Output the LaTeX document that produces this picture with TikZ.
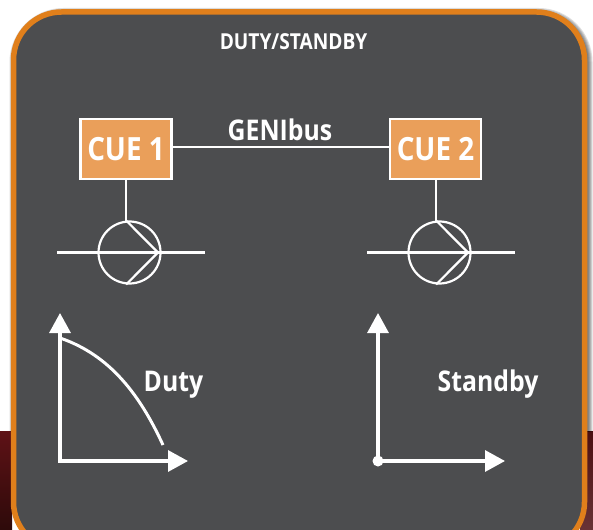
\documentclass[tikz,border=0pt]{standalone}
\usepackage{fontspec}
\setmainfont{Open Sans}[FakeStretch=0.87]
\usetikzlibrary{arrows.meta,positioning,calc}
\definecolor{panelgray}{HTML}{4C4D4F}
\definecolor{frameorange}{HTML}{E07F1B}
\definecolor{cuefill}{HTML}{EA9F5A}
\definecolor{darkred}{HTML}{5E1216}
\definecolor{deepred}{HTML}{2E0A0A}
\begin{document}
\begin{tikzpicture}[x=1pt,y=-1pt,
wire/.style={draw=white,line width=2.2pt},
axis/.style={draw=white,line width=3.2pt,{Triangle[length=20pt,width=21pt]}-{Triangle[length=20pt,width=21pt]}},
cue/.style={rectangle,draw=white,fill=cuefill,line width=2.2pt,minimum width=91pt,minimum height=60pt,
text=white,font=\bfseries\fontsize{32}{32}\selectfont,inner sep=0pt},
pump/.style={circle,draw=white,line width=2.2pt,minimum size=62pt,inner sep=0pt},
label/.style={text=white,font=\bfseries\fontsize{28.5}{28.5}\selectfont,inner sep=0pt,anchor=base}]

\useasboundingbox (0,0) rectangle (593,529);

%backdrop
\shade[top color=darkred,bottom color=deepred] (0,431) rectangle (12,529);
\shade[top color=darkred!80!black,bottom color=darkred!70!gray] (580,431) rectangle (593,529);

%shadow
\begin{scope}
\clip (0,0) rectangle (593,431);
\foreach \w in {12,10,8,6,4}{
\draw[black,opacity=0.13,line width=\w pt,rounded corners=48pt]
(15.5,14) rectangle (586.5,550);
}
\end{scope}

%panel
\draw[frameorange,fill=panelgray,line width=5.5pt,rounded corners=48pt]
(13.5,12) rectangle (584.5,550);

\node[text=white,font=\bfseries\fontsize{22}{22}\selectfont,inner sep=0pt,anchor=base]
(title) at (293.5,49.5) {DUTY/STANDBY};

%controllers
\node[cue] (cue1) at (126,149) {CUE 1};
\node[cue] (cue2) at (435.5,149) {CUE 2};
\node[label] (bus) at (280,140.5) {GENIbus};
\draw[wire] (cue1.east |- 0,147) coordinate (busa) -- (cue2.west |- 0,147) coordinate (busb);

%pumps
\foreach \name/\cx in {1/129.5,2/439.5}{
\node[pump] (pump\name) at (\cx,252.5) {};
\coordinate (inlet\name) at (\cx-72.5,252.5);
\coordinate (outlet\name) at (\cx+75.5,252.5);
\coordinate (tip\name) at (\cx+28.5,252.5);
\draw[wire] (cue\name.south -| pump\name.96) -- (pump\name.96);
\draw[wire] (inlet\name) -- (outlet\name);
\draw[wire,line join=round] (pump\name.96) -- (tip\name) -- (pump\name.264);
}

%curves
\coordinate (origin1) at (60,461);
\coordinate (top1) at (60,313);
\coordinate (right1) at (188,461);
\draw[axis] (top1) -- (origin1) -- (right1);
\coordinate (curvea) at (60,338);
\coordinate (curveb) at (163,445);
\draw[wire,line width=3pt] (curvea) .. controls (110,355) and (140,395) .. (curveb);
\node[label] (duty) at (173.5,391) {Duty};

\coordinate (origin2) at (378,461);
\coordinate (top2) at (378,313);
\coordinate (right2) at (505,461);
\draw[axis] (top2) -- (origin2) -- (right2);
\node[circle,fill=white,minimum size=11pt,inner sep=0pt] (dot2) at (origin2) {};
\node[label] (standby) at (488,391) {Standby};

\end{tikzpicture}
\end{document}
